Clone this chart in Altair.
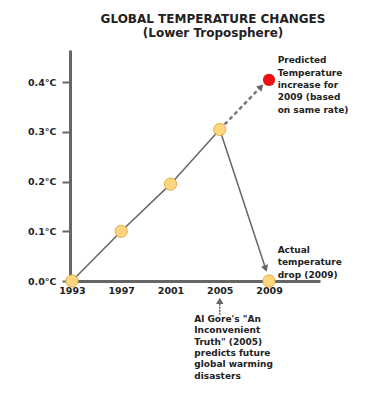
import math
import altair as alt
import pandas as pd

# ---- data ----
years = [1993, 1997, 2001, 2005, 2009]
temps = [0.0, 0.1, 0.195, 0.305, 0.0]
trend_years = [1993, 1997, 2001, 2005]
trend_temps = [0.0, 0.1, 0.195, 0.305]
pred_year = [2009]
pred_temp = [0.405]
dash_years = [2005, 2008.35]
dash_temps = [0.305, 0.391]
drop_years = [2005, 2008.72]
drop_temps = [0.305, 0.025]
gore_years = [2005, 2005]
gore_temps = [-0.068, -0.040]
y_ticks = [0.0, 0.1, 0.2, 0.3, 0.4]
x_ticks = [1993, 1997, 2001, 2005, 2009]
note_texts = [
    "Predicted\nTemperature\nincrease for\n2009 (based\non same rate)",
    "Actual\ntemperature\ndrop (2009)",
    "Al Gore's \"An\nInconvenient\nTruth\" (2005)\npredicts future\nglobal warming\ndisasters",
]
note_years = [2009.7, 2009.7, 2002.93]
note_temps = [0.452, 0.0705, -0.068]
note_leading = [12.3, 12.3, 11.4]

X_DOMAIN = [1992.84, 2013.14]
Y_DOMAIN = [0.0, 0.465]
W, H = 250, 231
FONT = "DejaVu Sans"
GREY = "#666666"

xs = alt.Scale(domain=X_DOMAIN, nice=False, zero=False)
ys = alt.Scale(domain=Y_DOMAIN, nice=False, zero=False)


def screen_angle(x0, y0, x1, y1):
    dx = (x1 - x0) / (X_DOMAIN[1] - X_DOMAIN[0]) * W
    dy = -(y1 - y0) / (Y_DOMAIN[1] - Y_DOMAIN[0]) * H
    a = math.degrees(math.atan2(dx, -dy))
    return a % 360


pts = pd.DataFrame({"year": years, "temp": temps})
trend = pd.DataFrame({"year": trend_years, "temp": trend_temps})
pred = pd.DataFrame({"year": pred_year, "temp": pred_temp})
dash = pd.DataFrame({"year": dash_years, "temp": dash_temps})
drop = pd.DataFrame({"year": drop_years, "temp": drop_temps})
gore = pd.DataFrame({"year": gore_years, "temp": gore_temps})
heads = pd.DataFrame({
    "year": [dash_years[1], drop_years[1], gore_years[1]],
    "temp": [dash_temps[1], drop_temps[1], gore_temps[1]],
    "ang": [
        screen_angle(dash_years[0], dash_temps[0], dash_years[1], dash_temps[1]),
        screen_angle(drop_years[0], drop_temps[0], drop_years[1], drop_temps[1]),
        screen_angle(gore_years[0], gore_temps[0], gore_years[1], gore_temps[1]),
    ],
})

X = alt.X("year:Q", scale=xs, axis=alt.Axis(
    values=x_ticks, format="d", title=None, grid=False, ticks=False,
    domainColor=GREY, domainWidth=3, labelFont=FONT, labelFontSize=9.5,
    labelFontWeight="bold", labelColor="#222", labelPadding=4))
Y = alt.Y("temp:Q", scale=ys, axis=alt.Axis(
    values=y_ticks, title=None, grid=False, tickColor=GREY, tickWidth=2,
    tickSize=8, domainColor=GREY, domainWidth=3, labelFont=FONT,
    labelFontSize=9.5, labelFontWeight="bold", labelColor="#222",
    labelPadding=6, labelExpr="format(datum.value, '.1f') + '°C'"))

base_line = alt.Chart(trend).mark_line(color=GREY, strokeWidth=1.5).encode(x=X, y=Y)

dash_line = alt.Chart(dash).mark_line(color="#777777", strokeWidth=2.5,
                                       strokeDash=[4, 3]).encode(x="year:Q", y="temp:Q")
drop_line = alt.Chart(drop).mark_line(color=GREY, strokeWidth=1.5).encode(x="year:Q", y="temp:Q")
gore_line = alt.Chart(gore).mark_line(color=GREY, strokeWidth=1.5,
                                       strokeDash=[2, 1]).encode(x="year:Q", y="temp:Q")
arrow_heads = alt.Chart(heads).mark_point(shape="triangle-up", filled=True,
                                          color=GREY, size=55, opacity=1).encode(
    x="year:Q", y="temp:Q", angle=alt.Angle("ang:Q", scale=None))

points = alt.Chart(pts).mark_point(filled=True, size=150, fill="#FDD57C",
                                   stroke="#E3AE4A", strokeWidth=1, opacity=1).encode(
    x="year:Q", y="temp:Q")
red = alt.Chart(pred).mark_point(filled=True, size=150, color="#EE1111", opacity=1).encode(
    x="year:Q", y="temp:Q")

text_layers = []
for t, yr, tp, lh in zip(note_texts, note_years, note_temps, note_leading):
    df = pd.DataFrame({"txt": [t], "year": [yr], "temp": [tp]})
    text_layers.append(
        alt.Chart(df).mark_text(align="left", baseline="top", font=FONT,
                                fontSize=9, fontWeight="bold", color="#222",
                                lineBreak="\n", lineHeight=lh).encode(
            x="year:Q", y="temp:Q", text="txt:N"))

chart = alt.layer(base_line, dash_line, drop_line, gore_line, arrow_heads,
                  points, red, *text_layers).properties(
    width=W, height=H,
    autosize=alt.AutoSizeParams(type="none"),
    padding={"left": 62, "top": 42, "right": 37, "bottom": 110},
    title=alt.TitleParams(
        text="GLOBAL TEMPERATURE CHANGES",
        subtitle="\u00a0\u00a0\u00a0\u00a0(Lower Troposphere)",
        font=FONT, fontSize=12, fontWeight="bold", color="#222",
        subtitleFont=FONT, subtitleFontSize=12, subtitleFontWeight="bold",
        subtitleColor="#222", subtitlePadding=2,
        anchor="middle", frame="group", dx=18, offset=10),
).configure_view(stroke=None)

chart.save("out.html", embed_options={"renderer": "svg", "actions": False})
